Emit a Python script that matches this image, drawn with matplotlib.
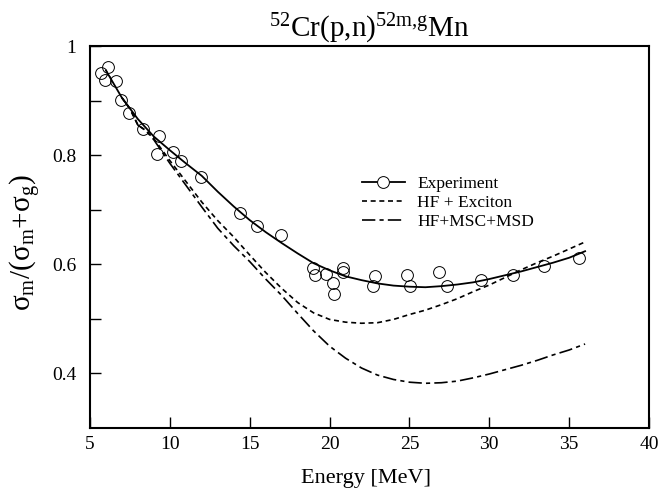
import matplotlib
matplotlib.use("Agg")
import matplotlib.pyplot as plt
from matplotlib.lines import Line2D
from matplotlib.ticker import FuncFormatter, MultipleLocator

plt.rcParams['font.family'] = ['Liberation Serif', 'DejaVu Serif']
plt.rcParams['mathtext.fontset'] = 'custom'
plt.rcParams['mathtext.rm'] = 'Liberation Serif'
plt.rcParams['mathtext.it'] = 'Liberation Serif:italic'

# Experimental points
exp_E = [5.69, 5.94, 6.13, 6.63, 6.94, 7.44, 8.32, 9.20, 9.32, 10.20, 10.70,
         11.95, 14.39, 15.46, 16.96, 18.96, 19.09, 19.78, 20.22, 20.28, 20.84,
         20.84, 22.72, 22.85, 24.85, 25.04, 26.85, 27.35, 29.48, 31.48, 33.43, 35.62]
exp_R = [0.950, 0.938, 0.961, 0.936, 0.901, 0.877, 0.848, 0.802, 0.835, 0.806, 0.789,
         0.760, 0.694, 0.670, 0.653, 0.594, 0.580, 0.582, 0.565, 0.545, 0.594,
         0.585, 0.560, 0.578, 0.580, 0.560, 0.585, 0.561, 0.571, 0.580, 0.596, 0.611]

# Fit through experiment
fit_E = [6, 7, 8, 9, 10, 11, 12, 13, 14, 15, 16, 17, 18, 19, 20, 21, 22, 23, 24,
         25, 26, 27, 28, 29, 30, 31, 32, 33, 34, 35, 36]
fit_R = [0.955, 0.905, 0.866, 0.834, 0.809, 0.785, 0.762, 0.733, 0.706, 0.681, 0.659,
         0.639, 0.620, 0.602, 0.589, 0.578, 0.571, 0.565, 0.561, 0.559, 0.558, 0.560,
         0.563, 0.567, 0.573, 0.580, 0.587, 0.595, 0.603, 0.612, 0.624]

# HF + Exciton
exc_E = [7, 7.5, 8, 8.5, 9, 10, 11, 12, 13, 14, 15, 16, 17, 18, 19, 20, 21, 22, 23,
         24, 25, 26, 27, 28, 29, 30, 31, 32, 33, 34, 35, 36]
exc_R = [0.905, 0.885, 0.855, 0.845, 0.830, 0.790, 0.752, 0.714, 0.680, 0.650, 0.617,
         0.585, 0.556, 0.530, 0.511, 0.499, 0.494, 0.492, 0.493, 0.499, 0.508, 0.516,
         0.526, 0.537, 0.550, 0.562, 0.576, 0.590, 0.603, 0.615, 0.628, 0.641]

# HF + MSC + MSD
msd_E = [7, 7.5, 8, 8.5, 9, 10, 11, 12, 13, 14, 15, 16, 17, 18, 19, 20, 21, 22, 23,
         24, 25, 26, 27, 28, 29, 30, 31, 32, 33, 34, 35, 36]
msd_R = [0.905, 0.885, 0.855, 0.845, 0.828, 0.785, 0.745, 0.705, 0.666, 0.634, 0.605,
         0.573, 0.543, 0.510, 0.478, 0.450, 0.428, 0.410, 0.397, 0.389, 0.384, 0.382,
         0.383, 0.386, 0.392, 0.399, 0.407, 0.415, 0.424, 0.434, 0.443, 0.454]

fig = plt.figure(figsize=(6.59, 4.92), dpi=100)
ax = fig.add_axes([0.1366, 0.130, 0.8482, 0.7765])

ax.plot(fit_E, fit_R, color='black', lw=1.3)
ax.plot(exp_E, exp_R, linestyle='none', marker='o', ms=8.5, mfc='none',
        mec='black', mew=0.7)
ax.plot(exc_E, exc_R, color='black', lw=1.2, linestyle=(0, (3, 2.2)))
ax.plot(msd_E, msd_R, color='black', lw=1.2, linestyle=(0, (8, 2.5, 2.5, 2.5)))

handles = [
    Line2D([], [], color='black', lw=1.3, marker='o', ms=8.5, mfc='white', mec='black', mew=0.7),
    Line2D([], [], color='black', lw=1.2, linestyle=(0, (3, 2.2))),
    Line2D([], [], color='black', lw=1.2, linestyle=(0, (8, 2.5, 2.5, 2.5))),
]
labels = ['Experiment', 'HF + Exciton', 'HF+MSC+MSD']
ax.legend(handles, labels, frameon=False, loc='upper left',
          bbox_to_anchor=(0.458, 0.70), fontsize=12.5, handlelength=2.5,
          handletextpad=0.7, labelspacing=0.15)

ax.set_xlim(5, 40)
ax.set_ylim(0.3, 1.0)
ax.xaxis.set_major_locator(MultipleLocator(5))
ax.set_yticks([0.4, 0.5, 0.6, 0.7, 0.8, 0.9, 1.0])
ax.yaxis.set_major_formatter(FuncFormatter(
    lambda v, p: ('1' if abs(v - 1) < 1e-6 else f'{v:.1f}') if round(v * 10) % 2 == 0 else ''))
ax.tick_params(direction='in', length=8, width=1, labelsize=14, top=False, right=False)
ax.tick_params(axis='x', pad=6)
ax.tick_params(axis='y', pad=10)
for s in ax.spines.values():
    s.set_linewidth(1.5)

ax.set_xlabel('Energy [MeV]', fontsize=16)
ax.xaxis.set_label_coords(0.494, -0.108)
ax.xaxis.label.set_va('top')
ax.set_ylabel('σ$_\\mathrm{m}$/(σ$_\\mathrm{m}$+σ$_\\mathrm{g}$)', fontsize=21)
ax.yaxis.set_label_coords(-0.084, 0.484)
ax.set_title('$^{52}$Cr(p,n)$^{52\\mathrm{m{,}g}}$Mn', fontsize=21, pad=5)

fig.savefig('out.png', dpi=100)
